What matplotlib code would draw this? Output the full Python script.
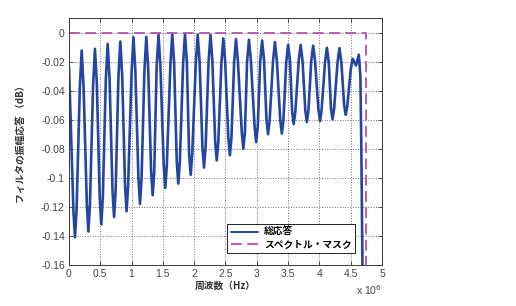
import numpy as np
import matplotlib
matplotlib.use('Agg')
import matplotlib.pyplot as plt
from matplotlib.ticker import FuncFormatter, MultipleLocator

plt.rcParams['font.family'] = ['Liberation Sans', 'Noto Sans CJK JP']
plt.rcParams['axes.unicode_minus'] = False

#response (frequency in units of 1e6 Hz, level in dB)
#each dip / peak with the points on its shoulders
freq_mhz = [0.0, 0.071, 0.096, 0.121,
            0.173, 0.203, 0.233, 0.285, 0.31, 0.335,
            0.385, 0.415, 0.445, 0.491, 0.516, 0.541,
            0.588, 0.618, 0.648, 0.695, 0.72, 0.745,
            0.79, 0.82, 0.85, 0.895, 0.92, 0.945,
            1.0, 1.03, 1.06, 1.109, 1.134, 1.159,
            1.205, 1.235, 1.265, 1.312, 1.337, 1.362,
            1.40, 1.43, 1.46, 1.513, 1.538, 1.563,
            1.62, 1.65, 1.68, 1.721, 1.746, 1.771,
            1.823, 1.853, 1.883, 1.919, 1.944, 1.969,
            2.026, 2.056, 2.086, 2.132, 2.157, 2.182,
            2.23, 2.26, 2.29, 2.335, 2.36, 2.385,
            2.435, 2.465, 2.495, 2.545, 2.57, 2.595,
            2.638, 2.668, 2.698, 2.76, 2.785, 2.81,
            2.845, 2.875, 2.905, 2.965, 2.99, 3.015,
            3.055, 3.085, 3.115, 3.155, 3.18, 3.205,
            3.26, 3.29, 3.32, 3.375, 3.40, 3.425,
            3.47, 3.5, 3.53, 3.565, 3.59, 3.615,
            3.67, 3.70, 3.73, 3.775, 3.80, 3.825,
            3.87, 3.90, 3.93, 3.985, 4.01, 4.035,
            4.09, 4.12, 4.15, 4.185, 4.21, 4.235,
            4.29, 4.32, 4.35, 4.395, 4.42, 4.445,
            4.50, 4.53, 4.585, 4.63, 4.655, 4.67, 4.68, 4.69]
resp_db = [-0.023, -0.123, -0.141, -0.122,
           -0.038, -0.0124, -0.0373, -0.118, -0.137, -0.118,
           -0.0364, -0.0112, -0.0354, -0.114, -0.132, -0.113,
           -0.0326, -0.0078, -0.0316, -0.109, -0.127, -0.109,
           -0.0304, -0.0062, -0.0296, -0.105, -0.123, -0.105,
           -0.0272, -0.0032, -0.0262, -0.100, -0.118, -0.1008,
           -0.026, -0.003, -0.0248, -0.0956, -0.112, -0.0954,
           -0.0237, -0.0016, -0.0227, -0.0912, -0.107, -0.0911,
           -0.0222, -0.001, -0.0216, -0.0886, -0.104, -0.0886,
           -0.0216, -0.001, -0.0204, -0.0835, -0.098, -0.0835,
           -0.0208, -0.0015, -0.0198, -0.0793, -0.093, -0.0793,
           -0.0199, -0.0016, -0.0189, -0.075, -0.088, -0.0754,
           -0.0208, -0.004, -0.0201, -0.0724, -0.0845, -0.0725,
           -0.0205, -0.0045, -0.0196, -0.0687, -0.080, -0.0688,
           -0.020, -0.005, -0.0191, -0.0648, -0.0754, -0.0649,
           -0.0195, -0.0055, -0.0184, -0.0603, -0.070, -0.0605,
           -0.0193, -0.0066, -0.0192, -0.0601, -0.0696, -0.0604,
           -0.0207, -0.0085, -0.0194, -0.0548, -0.063, -0.0548,
           -0.0194, -0.0085, -0.0191, -0.0536, -0.0616, -0.0537,
           -0.0195, -0.009, -0.0194, -0.0532, -0.061, -0.0534,
           -0.0206, -0.0105, -0.0204, -0.0524, -0.0598, -0.0525,
           -0.0206, -0.0108, -0.020, -0.0497, -0.0566, -0.0508,
           -0.0257, -0.018, -0.0227, -0.0153, -0.03, -0.08, -0.125, -0.17]

#spectral mask
mask_freq = [0.0, 4.75, 4.75]
mask_db = [0.0, 0.0, -0.17]

labels = ['総応答', 'スペクトル・マスク']

fig = plt.figure(figsize=(5.16, 3.06), dpi=100)
ax = fig.add_axes([0.1337, 0.134, 0.6066, 0.8072])

ax.plot(freq_mhz, resp_db, color='#2446A2', lw=1.9, solid_joinstyle='round',
        solid_capstyle='round', label=labels[0])
ax.plot(mask_freq, mask_db, color='#B84FB4', lw=1.3, ls=(0, (6, 3)), label=labels[1])

ax.set_xlim(0, 5)
ax.set_ylim(-0.16, 0.01)
ax.xaxis.set_major_locator(MultipleLocator(0.5))
ax.yaxis.set_major_locator(MultipleLocator(0.02))
fmt = FuncFormatter(lambda v, p: '%g' % round(v, 6))
ax.xaxis.set_major_formatter(fmt)
ax.yaxis.set_major_formatter(fmt)

ax.grid(True, ls=':', color='#707070', lw=0.7)
ax.tick_params(direction='in', length=3, width=0.6, top=True, right=True,
               labelsize=7.5, labelcolor='#444444', color='#333333', pad=3)
for s in ax.spines.values():
  s.set_color('#3a3a3a')
  s.set_linewidth(0.7)

jp = dict(family=['Noto Sans CJK JP', 'DejaVu Sans'], weight='bold', size=7, color='#333333')
ax.set_xlabel('周波数（Hz）', fontdict=jp, labelpad=1)
ax.set_ylabel('フィルタの振幅応答 （dB）', fontdict=jp, labelpad=10)
ax.text(1.0, -0.101, r'x 10$^6$', transform=ax.transAxes, ha='right', va='center',
        fontsize=7.5, color='#444444')

leg = ax.legend(loc='lower right', bbox_to_anchor=(0.914, 0.049), borderaxespad=0,
                fancybox=False, edgecolor='#222222', framealpha=1, handlelength=2.8,
                prop=dict(family=['Noto Sans CJK JP', 'DejaVu Sans'], weight='bold', size=7),
                borderpad=0.35, labelspacing=0.25, handletextpad=0.6)
leg.get_frame().set_linewidth(0.7)
leg.get_lines()[0].set_linewidth(1.4)

fig.savefig('out.png', dpi=100)
